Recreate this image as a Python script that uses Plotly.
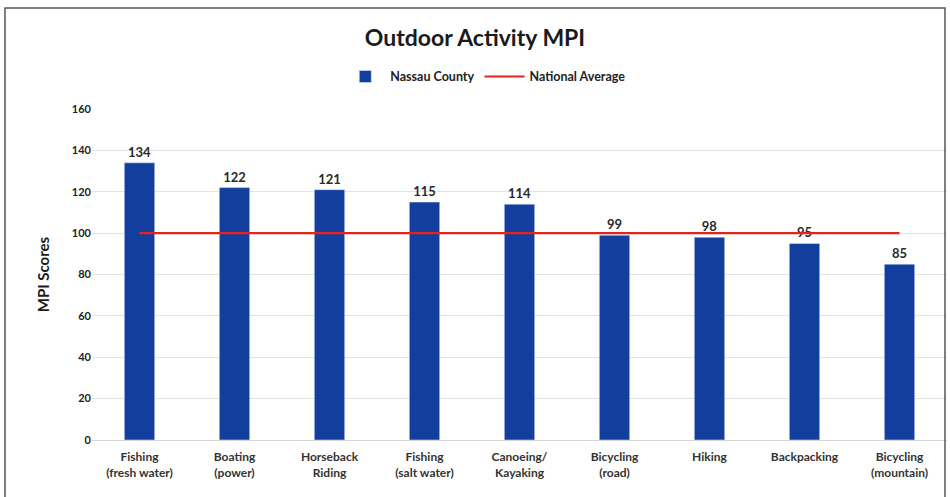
import plotly.graph_objects as go

categories = ["Fishing<br>(fresh water)", "Boating<br>(power)", "Horseback<br>Riding",
              "Fishing<br>(salt water)", "Canoeing/<br>Kayaking", "Bicycling<br>(road)",
              "Hiking", "Backpacking", "Bicycling<br>(mountain)"]
nassau = [134, 122, 121, 115, 114, 99, 98, 95, 85]
national = [100, 100, 100, 100, 100, 100, 100, 100, 100]
y_ticks = [0, 20, 40, 60, 80, 100, 120, 140, 160]

FONT = "Lato"
fig = go.Figure()
fig.add_trace(go.Bar(
    x=categories, y=nassau, name="<b>Nassau County</b>",
    marker=dict(color="#123f9e"),
    text=["<b>%d</b>" % v for v in nassau], textposition="outside",
    textfont=dict(family=FONT, size=13, color="#2a2a2a"),
    cliponaxis=False,
))
fig.add_trace(go.Scatter(
    x=categories, y=national, name="<b>National Average</b>", mode="lines",
    line=dict(color="#e3231c", width=2.2),
))

L, R, T, B = 92, 3, 109, 57
fig.update_layout(
    width=950, height=497,
    margin=dict(l=L, r=R, t=T, b=B),
    paper_bgcolor="white", plot_bgcolor="white",
    font=dict(family=FONT, color="#222222"),
    title=dict(text="<b>Outdoor Activity MPI</b>", x=0.5, xanchor="center",
               y=1 - 38 / 497, yanchor="middle",
               font=dict(family=FONT, size=23, color="#1a1a1a")),
    bargap=0.68,
    showlegend=True,
    legend=dict(orientation="h", x=0.46, xanchor="center", y=1.097, yanchor="middle",
                font=dict(family=FONT, size=12.5, color="#222222"),
                traceorder="normal", itemwidth=40),
    xaxis=dict(showgrid=False, showline=True, linecolor="#d9d9d9",
               ticks="", ticklabelstandoff=6,
               tickvals=categories, ticktext=["<b>%s</b>" % c for c in categories],
               tickfont=dict(family=FONT, size=12, color="#333333")),
    yaxis=dict(range=[0, 160], tickvals=y_ticks, ticktext=["<b>%d</b>" % v for v in y_ticks],
               showgrid=True, gridcolor="#e3e3e3",
               zeroline=False, ticks="",
               tickfont=dict(family=FONT, size=11, color="#222222"),
               title=dict(text="<b>MPI Scores</b>", standoff=18,
                          font=dict(family=FONT, size=15, color="#1a1a1a"))),
    shapes=[dict(type="rect", xref="paper", yref="paper",
                 x0=(5 - L) / 855, x1=(945 - L) / 855,
                 y0=(440 - 498) / 331, y1=(440 - 8) / 331,
                 line=dict(color="#555555", width=1.5), fillcolor="rgba(0,0,0,0)")],
)
fig.write_html("out.html")
